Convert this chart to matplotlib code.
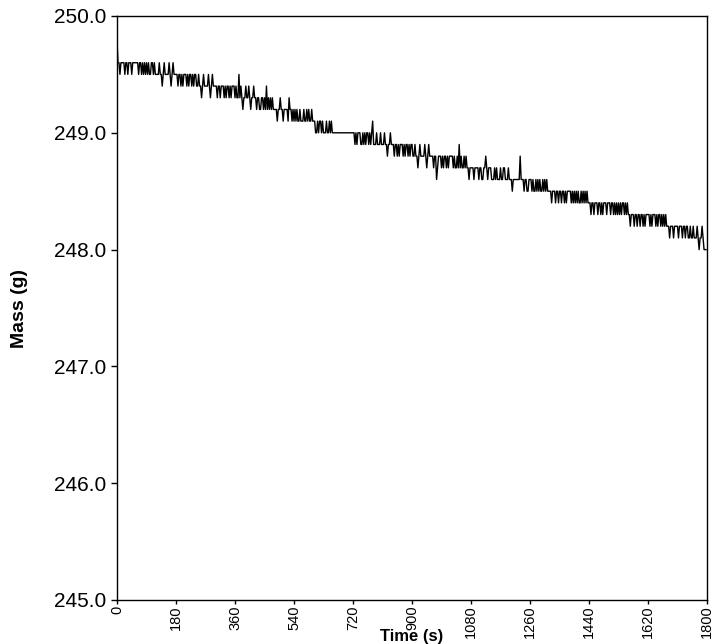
import numpy as np
import matplotlib.pyplot as plt

# balance readings, one every 3 s; each 60 s block has a base level (g)
# and a string of offsets in 0.1 g steps where '5' means "at base level"
block_base = [249.6, 249.5, 249.5, 249.4, 249.4, 249.3, 249.3, 249.2, 249.2, 249.1,
              249.0, 249.0, 248.9, 248.9, 248.8, 248.8, 248.8, 248.7, 248.7, 248.6,
              248.6, 248.5, 248.5, 248.4, 248.4, 248.3, 248.3, 248.2, 248.2, 248.1]
block_offsets = [
    "75545555455455545555", "66566565656565566565", "55565545655556545655",
    "66566565666565665656", "65565545655556545655", "66566566656566565666",
    "56557565455655654556", "66566556656575656565", "55545565545555465545",
    "56565565556556565565", "66556566565556556565", "55555555555555555555",
    "66565666556565665656", "75556555655565545565", "66566565666565665656",
    "65565545655556545655", "55455345554545545455", "66565565756556565545",
    "55545555455445565455", "65556565556556655565", "55455555557555455445",
    "66565565656556565655", "55455545545545545455", "66565656565565656565",
    "55455455545545455545", "66566565656565665656", "55455545545545545455",
    "66565666565665656565", "55455545555455545545", "65565565556545565444",
]
sample_step = 3  # s

mass = np.array([base + (int(c) - 5) * 0.1
                 for base, offs in zip(block_base, block_offsets) for c in offs])
time = np.arange(len(mass)) * sample_step

xticks = list(range(0, 1801, 180))
yticks = [245.0, 246.0, 247.0, 248.0, 249.0, 250.0]

plt.rcParams['font.family'] = ['Liberation Sans', 'DejaVu Sans']

fig = plt.figure(figsize=(7.15, 6.44), dpi=100)
ax = fig.add_axes([117 / 715, 1 - 600 / 644, 590 / 715, 584 / 644])

ax.plot(time, mass, color='black', linewidth=1.0)

ax.set_xlim(0, 1800)
ax.set_ylim(245.0, 250.0)
ax.set_xticks(xticks)
ax.set_xticklabels([str(t) for t in xticks], rotation=90, fontsize=10.5)
ax.set_yticks(yticks)
ax.set_yticklabels([f"{v:.1f}" for v in yticks], fontsize=15)
ax.tick_params(direction='out', length=4, width=1, colors='black')
ax.tick_params(axis='x', length=3, pad=1)
for s in ax.spines.values():
    s.set_linewidth(1)
    s.set_color('black')

ax.set_xlabel("Time (s)", fontsize=12, fontweight='bold', va='center')
ax.set_ylabel("Mass (g)", fontsize=14, fontweight='bold')
ax.xaxis.set_label_coords(0.5, (600 - 637) / 584)
ax.yaxis.set_label_coords((28 - 117) / 590, 0.5)

fig.savefig('out.png', dpi=100)
